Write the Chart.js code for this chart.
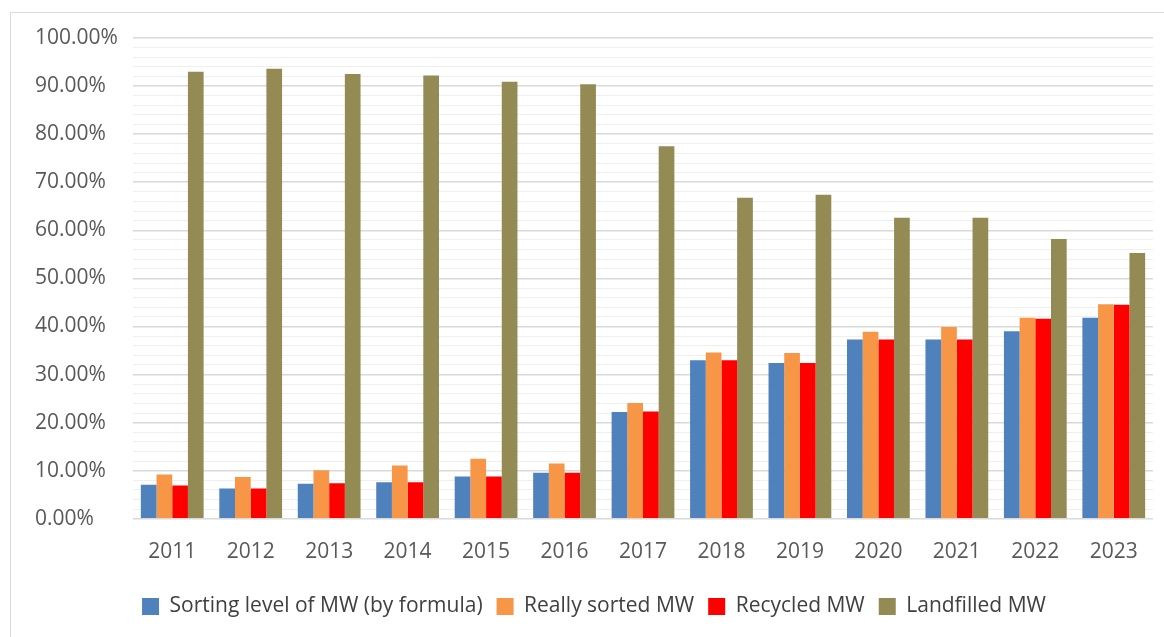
<!DOCTYPE html>
<html>
<head>
<meta charset="utf-8">
<script src="https://cdn.jsdelivr.net/npm/chart.js@4/dist/chart.umd.min.js"></script>
<style>
  html, body { margin: 0; padding: 0; background: #ffffff; overflow: hidden; }
  #frame { position: absolute; left: 10px; top: 12px; width: 1200px; height: 700px;
           border-left: 1px solid #d9d9d9; border-top: 1px solid #d9d9d9; }
  #wrap { position: absolute; left: 0; top: 0; width: 1164px; height: 637px; }
</style>
</head>
<body>
<div id="frame"></div>
<div id="wrap"><canvas id="chart" width="1164" height="637"></canvas></div>
<script>
// Years on the category axis
const years = ['2011', '2012', '2013', '2014', '2015', '2016', '2017', '2018', '2019', '2020', '2021', '2022', '2023'];

// Shares of municipal waste, in percent
const sortingByFormula = [7.1, 6.3, 7.3, 7.6, 8.8, 9.6, 22.2, 33.0, 32.4, 37.3, 37.3, 39.0, 41.8];
const reallySorted     = [9.2, 8.7, 10.1, 11.1, 12.5, 11.5, 24.1, 34.6, 34.5, 38.9, 39.9, 41.8, 44.6];
const recycled         = [6.9, 6.3, 7.4, 7.6, 8.8, 9.6, 22.3, 33.0, 32.4, 37.3, 37.3, 41.6, 44.5];
const landfilled       = [93.0, 93.6, 92.5, 92.2, 90.9, 90.4, 77.5, 66.8, 67.4, 62.6, 62.6, 58.2, 55.3];

// Series names shown in the legend
const seriesNames = ['Sorting level of MW (by formula)', 'Really sorted MW', 'Recycled MW', 'Landfilled MW'];

const FONT = "'Open Sans', 'Noto Sans', sans-serif";
const SIZE = 21;

new Chart(document.getElementById('chart'), {
  type: 'bar',
  data: {
    labels: years,
    datasets: [
      { label: seriesNames[0], data: sortingByFormula, backgroundColor: '#4f81bd' },
      { label: seriesNames[1], data: reallySorted,     backgroundColor: '#f79646' },
      { label: seriesNames[2], data: recycled,         backgroundColor: '#ff0000' },
      { label: seriesNames[3], data: landfilled,       backgroundColor: '#948a54' }
    ]
  },
  options: {
    responsive: false,
    animation: false,
    devicePixelRatio: 1,
    layout: { padding: { left: 35, right: 11, top: 38, bottom: 10 } },
    datasets: { bar: { categoryPercentage: 0.8, barPercentage: 1.0 } },
    plugins: {
      tooltip: { enabled: false },
      legend: {
        position: 'bottom',
        labels: {
          font: { family: FONT, size: SIZE },
          color: '#404040',
          boxWidth: 17,
          boxHeight: 17,
          padding: 14
        }
      }
    },
    scales: {
      x: {
        afterFit: (scale) => { scale.height -= 4; },
        grid: { display: false, drawTicks: false },
        border: { display: false },
        ticks: { font: { family: FONT, size: SIZE }, color: '#595959', padding: 21 }
      },
      y: {
        min: 0,
        max: 100,
        afterFit: (scale) => { scale.width = 98; },
        border: { display: false },
        grid: {
          drawTicks: false,
          color: (ctx) => (ctx.tick && ctx.tick.value % 10 === 0) ? '#d9d9d9' : '#efefef',
          lineWidth: (ctx) => (ctx.tick && ctx.tick.value % 10 === 0) ? 1.5 : 1
        },
        ticks: {
          stepSize: 2,
          autoSkip: false,
          crossAlign: 'far',
          padding: 0,
          font: { family: FONT, size: SIZE },
          color: '#595959',
          callback: (v) => (v % 10 === 0) ? v.toFixed(2) + '%' : ''
        }
      }
    }
  }
});
</script>
</body>
</html>
